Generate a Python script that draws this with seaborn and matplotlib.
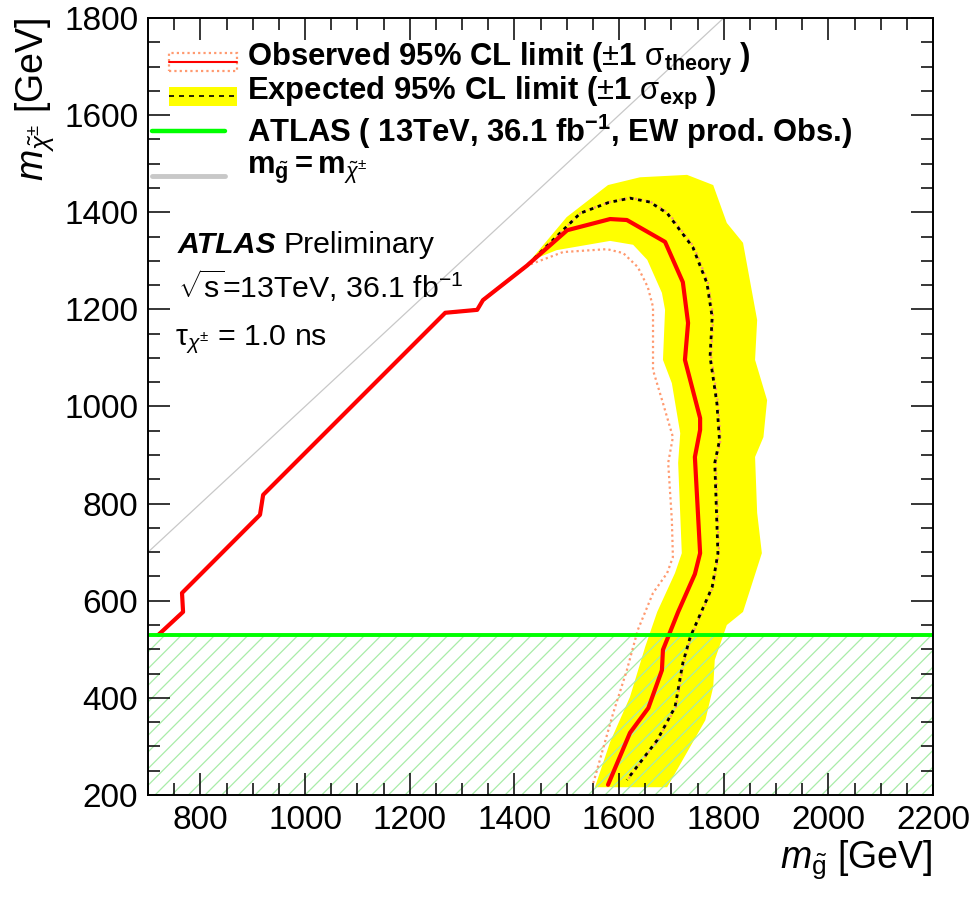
import matplotlib
matplotlib.use("Agg")
import matplotlib.pyplot as plt
import seaborn as sns
from matplotlib.patches import Rectangle
from matplotlib.lines import Line2D
from matplotlib.ticker import MultipleLocator

# ---------------- data (GeV) ----------------
diag_x = [720, 767, 765, 914, 920, 1268, 1329, 1340, 1424]
diag_y = [530, 577, 616, 777, 818, 1193, 1199, 1219, 1290]

obs_x = diag_x + [1501, 1583, 1615, 1688, 1722, 1732, 1726, 1755, 1755, 1745,
                  1755, 1745, 1713, 1684, 1682, 1656, 1621, 1579]
obs_y = diag_y + [1363, 1386, 1384, 1339, 1256, 1172, 1096, 976, 952, 896,
                  698, 655, 577, 499, 457, 379, 328, 221]

exp_x = diag_x + [1526, 1580, 1621, 1659, 1692, 1741, 1768, 1778, 1774, 1787,
                  1792, 1783, 1789, 1778, 1736, 1722, 1707, 1673, 1615]
exp_y = diag_y + [1398, 1420, 1429, 1421, 1398, 1328, 1254, 1184, 1102, 1007,
                  930, 884, 698, 628, 525, 472, 381, 313, 231]

obs_up_x = diag_x + [1527, 1581, 1622, 1660, 1694, 1743, 1770, 1780, 1776, 1789,
                     1794, 1785, 1791, 1780, 1738, 1724, 1709, 1675, 1617]
obs_up_y = diag_y + [1399, 1421, 1430, 1422, 1399, 1329, 1255, 1185, 1103, 1008,
                     931, 885, 699, 629, 526, 473, 382, 314, 232]

obs_dn_x = diag_x + [1493, 1577, 1608, 1636, 1655, 1665, 1665, 1665, 1684, 1703,
                     1694, 1701, 1703, 1692, 1665, 1636, 1615, 1589, 1551]
obs_dn_y = diag_y + [1318, 1324, 1316, 1287, 1246, 1205, 1123, 1075, 1007, 937,
                     884, 766, 690, 657, 616, 540, 457, 369, 225]

band_outer_x = [1430, 1500, 1579, 1640, 1730, 1780, 1806, 1837, 1864, 1860, 1883,
                1876, 1860, 1864, 1873, 1837, 1806, 1783, 1780, 1765, 1692]
band_outer_y = [1300, 1390, 1456, 1472, 1477, 1456, 1378, 1337, 1178, 1096, 1013,
                937, 896, 781, 698, 577, 550, 478, 422, 354, 216]
band_inner_x = [1554, 1583, 1621, 1650, 1673, 1707, 1720, 1713, 1717, 1701, 1684,
                1688, 1682, 1654, 1627, 1583, 1481, 1430]
band_inner_y = [216, 309, 402, 505, 577, 657, 698, 884, 945, 1048, 1096,
                1199, 1234, 1302, 1333, 1341, 1322, 1300]

ew_limit = 530          # ATLAS EW production observed limit on chargino mass
diag_line = [700, 1800] # m_gluino = m_chargino

xlim = (700, 2200)
ylim = (200, 1800)
xticks = [800, 1000, 1200, 1400, 1600, 1800, 2000, 2200]
yticks = [200, 400, 600, 800, 1000, 1200, 1400, 1600, 1800]

# ---------------- style ----------------
sns.set_theme(style="ticks")
rc = plt.rcParams
rc["font.family"] = ["Liberation Sans", "DejaVu Sans"]
rc["mathtext.fontset"] = "custom"
rc["mathtext.rm"] = "Liberation Sans"
rc["mathtext.it"] = "Liberation Sans:italic"
rc["mathtext.bf"] = "Liberation Sans:bold"
rc["hatch.linewidth"] = 0.9
for k in ["text.color", "axes.labelcolor", "xtick.color", "ytick.color",
          "axes.edgecolor", "xtick.labelcolor", "ytick.labelcolor"]:
    rc[k] = "black"
rc["xtick.direction"] = "in"
rc["ytick.direction"] = "in"
rc["xtick.top"] = True
rc["ytick.right"] = True
rc["xtick.major.size"] = 16
rc["ytick.major.size"] = 16
rc["xtick.minor.size"] = 8.5
rc["ytick.minor.size"] = 8.5
rc["xtick.major.width"] = 1.1
rc["ytick.major.width"] = 1.1
rc["xtick.minor.width"] = 1.1
rc["ytick.minor.width"] = 1.1
rc["xtick.minor.visible"] = True
rc["ytick.minor.visible"] = True

fig = plt.figure(figsize=(9.77, 8.97), dpi=100)
ax = fig.add_axes([148 / 977, 1 - 795 / 897, 785 / 977, 777 / 897])

RED = "#ff0000"
ORANGE = "#ff9a70"
YELLOW = "#ffff00"
GREEN = "#00ff00"
HATCH = "#a8eca8"
GRAY = "#c8c8c8"

# yellow expected band
ax.fill(band_outer_x + band_inner_x, band_outer_y + band_inner_y,
        color=YELLOW, lw=0, zorder=1)

# hatched excluded region
ax.fill_between(list(xlim), ylim[0], ew_limit, facecolor="none",
                edgecolor=HATCH, hatch="//", linewidth=0, zorder=1.5)

# diagonal
sns.lineplot(x=diag_line, y=diag_line, ax=ax, color=GRAY, lw=0.9,
             sort=False, estimator=None, zorder=2)

# theory lines
for xs, ys in [(obs_up_x, obs_up_y), (obs_dn_x, obs_dn_y)]:
    sns.lineplot(x=xs, y=ys, ax=ax, color=ORANGE, lw=1.6, linestyle=(0, (1.0, 1.4)),
                 sort=False, estimator=None, zorder=3)

# expected
sns.lineplot(x=exp_x, y=exp_y, ax=ax, color="black", lw=2.0,
             linestyle=(0, (1.3, 1.7)), sort=False, estimator=None, zorder=4)

# observed
sns.lineplot(x=obs_x, y=obs_y, ax=ax, color=RED, lw=3.0,
             sort=False, estimator=None, zorder=5)

# EW limit line
ax.axhline(ew_limit, color=GREEN, lw=2.8, zorder=6)

ax.set_xlim(*xlim)
ax.set_ylim(*ylim)
ax.set_xticks(xticks)
ax.set_yticks(yticks)
ax.xaxis.set_minor_locator(MultipleLocator(50))
ax.yaxis.set_minor_locator(MultipleLocator(50))
ax.tick_params(which="both", direction="in", top=True, right=True,
               bottom=True, left=True, color="black", zorder=20)
ax.tick_params(which="major", length=16, width=1.1, labelsize=24, pad=7)
ax.tick_params(which="minor", length=8.5, width=1.1)
ax.set_axisbelow(False)
for s in ax.spines.values():
    s.set_linewidth(1.4)
    s.set_color("black")
    s.set_zorder(20)

ax.set_xlabel(r"$m_{\tilde{\mathrm{g}}}$ [GeV]", loc="right", fontsize=27, labelpad=2)
ax.set_ylabel(r"$m_{\tilde{\chi}^{\pm}}$ [GeV]", loc="top", fontsize=27, labelpad=6)

# ---------------- legend (drawn manually) ----------------
def fx(px):
    return (px - 148) / 785

def fy(py):
    return (795 - py) / 777

tr = ax.transAxes
ax.add_patch(Rectangle((fx(169), fy(71)), fx(237) - fx(169), fy(53) - fy(71),
                       transform=tr, facecolor="none", edgecolor=ORANGE,
                       linestyle=(0, (1.0, 1.4)), lw=1.6, zorder=10, clip_on=False))
ax.add_line(Line2D([fx(169), fx(237)], [fy(62), fy(62)], transform=tr, color=RED,
                   lw=1.5, zorder=10))
ax.add_patch(Rectangle((fx(169), fy(106)), fx(237) - fx(169), fy(87) - fy(106),
                       transform=tr, facecolor=YELLOW, edgecolor="none", zorder=10))
ax.add_line(Line2D([fx(169), fx(237)], [fy(96), fy(96)], transform=tr, color="black",
                   lw=1.2, linestyle=(0, (3, 3)), zorder=11))
ax.add_line(Line2D([fx(152), fx(225)], [fy(131), fy(131)], transform=tr, color=GREEN,
                   lw=3.2, zorder=10))
ax.add_line(Line2D([fx(152), fx(225)], [fy(176), fy(176)], transform=tr, color=GRAY,
                   lw=3.5, zorder=10))

leg_kw = dict(transform=tr, fontsize=22.3, fontweight="bold", va="baseline",
              ha="left", zorder=12)
ax.text(fx(247), fy(66), r"Observed 95% CL limit ($\pm$1 $\mathrm{\sigma}_{\mathbf{theory}}$ )", **leg_kw)
ax.text(fx(247), fy(100), r"Expected 95% CL limit ($\pm$1 $\mathrm{\sigma}_{\mathbf{exp}}$ )", **leg_kw)
ax.text(fx(247), fy(142), r"ATLAS ( 13TeV, 36.1 fb$^{\mathbf{-1}}$, EW prod. Obs.)", **leg_kw)
ax.text(fx(247), fy(174), r"$\mathbf{m}_{\tilde{\mathbf{g}}}\mathbf{=m}_{\tilde{\chi}^{\pm}}$", **leg_kw)

# ATLAS label
t1 = ax.text(fx(178), fy(253), "ATLAS", transform=tr, fontsize=21.8,
             fontweight="bold", fontstyle="italic", va="baseline", ha="left")
ax.annotate("Preliminary", xy=(1, 0), xycoords=t1, xytext=(5, 0),
            textcoords="offset points", fontsize=21.8, va="bottom", ha="left")
ax.text(fx(178), fy(298), r"$\sqrt{\mathrm{s}}$=13TeV, 36.1 fb$^{-1}$", transform=tr,
        fontsize=21.8, va="baseline", ha="left")
ax.text(fx(175), fy(345), r"$\mathrm{\tau}_{\chi^{\pm}}$ = 1.0 ns", transform=tr,
        fontsize=21.8, va="baseline", ha="left")

fig.savefig("out.png", dpi=100)
